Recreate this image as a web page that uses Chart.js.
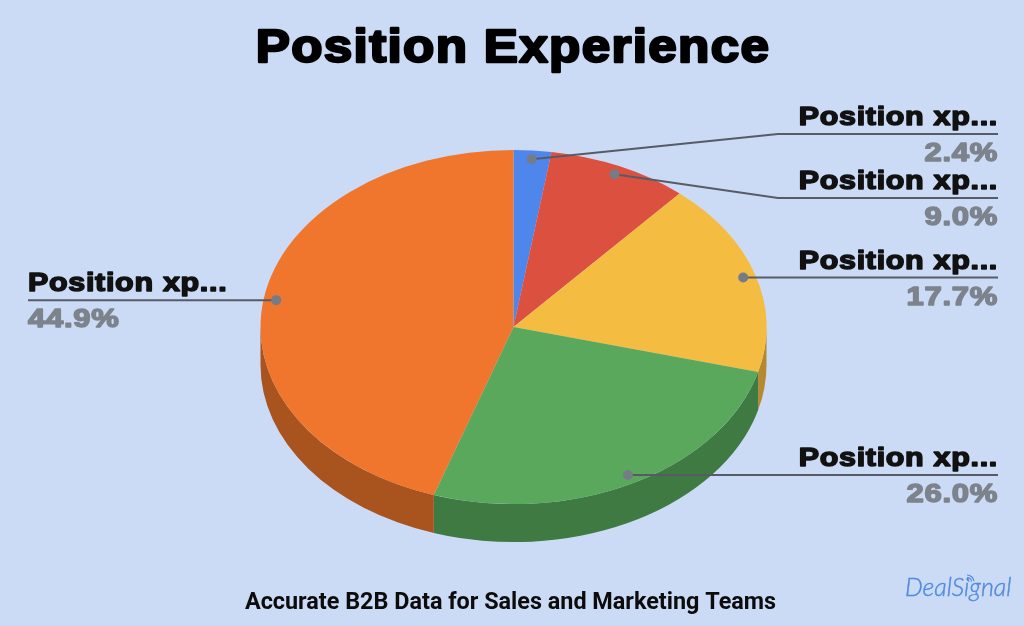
<!DOCTYPE html>
<html><head><meta charset="utf-8">
<script src="https://cdn.jsdelivr.net/npm/chart.js@4"></script>
<style>html,body{margin:0;padding:0;background:#cbdaf5;overflow:hidden}canvas{display:block}</style>
</head><body><canvas id="c" width="1024" height="626"></canvas>
<script>
const categories = ["Position xp...","Position xp...","Position xp...","Position xp...","Position xp..."];
const values = [2.4, 9.0, 17.7, 26.0, 44.9];
const colors = ["#4f86ec","#dc5040","#f4bd42","#59a85c","#f0762e"];
const sideColors = ["#375ea5","#9a382d","#b5892e","#3e7a42","#a9531f"];
const titleText = "Position Experience";
const footerText = "Accurate B2B Data for Sales and Marketing Teams";
const logoText = "DealSignal";

const SQUASH = 0.7, DEPTH = 38, DOT_FRAC = 0.95;
// label layout: leader elbow, line end, text anchor and line y
const labelLayout = [
  {lineY:134, elbow:778, x:998, align:"right"},
  {lineY:198, elbow:778, x:998, align:"right"},
  {lineY:277, elbow:null, x:998, align:"right"},
  {lineY:474, elbow:null, x:998, align:"right"},
  {lineY:300, elbow:null, x:28,  align:"left"}
];

function heavy(ctx, text, x, y, size, color, align, sw, stretch, spacing){
  ctx.save();
  ctx.translate(x,y); ctx.scale(stretch,1);
  ctx.font = "bold "+size+"px 'Liberation Sans'";
  ctx.letterSpacing = spacing+"px";
  ctx.textAlign = align; ctx.textBaseline = "alphabetic";
  ctx.fillStyle = color; ctx.strokeStyle = color; ctx.lineWidth = sw; ctx.lineJoin="round";
  ctx.strokeText(text,0,0); ctx.fillText(text,0,0);
  ctx.restore();
}

const pie3d = {
  id:"pie3d",
  beforeDatasetsDraw(chart){
    const ctx = chart.ctx, arcs = chart.getDatasetMeta(0).data;
    const a0 = arcs[0].getProps(["x","y","outerRadius"]);
    const cx=a0.x, cy=a0.y, rx=a0.outerRadius, ry=rx*SQUASH;
    arcs.forEach((arc,i)=>{
      const p = arc.getProps(["startAngle","endAngle"]);
      const s = Math.max(p.startAngle,0), e = Math.min(p.endAngle,Math.PI);
      if(e<=s) return;
      ctx.beginPath();
      ctx.ellipse(cx,cy,rx,ry,0,s,e,false);
      ctx.ellipse(cx,cy+DEPTH,rx,ry,0,e,s,true);
      ctx.closePath();
      ctx.fillStyle = sideColors[i];
      ctx.fill();
    });
    ctx.save();
    ctx.translate(0,cy); ctx.scale(1,SQUASH); ctx.translate(0,-cy);
  },
  afterDatasetsDraw(chart){
    const ctx = chart.ctx, arcs = chart.getDatasetMeta(0).data;
    ctx.restore();
    arcs.forEach((arc,i)=>{
      const p = arc.getProps(["x","y","startAngle","endAngle","outerRadius"]);
      const mid=(p.startAngle+p.endAngle)/2;
      const dx=p.x+Math.cos(mid)*p.outerRadius*DOT_FRAC;
      const dy=p.y+Math.sin(mid)*p.outerRadius*SQUASH*DOT_FRAC;
      const L=labelLayout[i];
      ctx.beginPath();
      ctx.strokeStyle="#565c66"; ctx.lineWidth=2;
      ctx.moveTo(dx,dy);
      if(L.elbow!==null){ ctx.lineTo(L.elbow,L.lineY); ctx.lineTo(L.x,L.lineY); }
      else { ctx.lineTo(L.x,dy); }
      ctx.stroke();
      ctx.beginPath(); ctx.fillStyle="#747c88"; ctx.arc(dx,dy,5,0,Math.PI*2); ctx.fill();
      const ly = L.elbow!==null ? L.lineY : dy;
      heavy(ctx,categories[i],L.x,ly-9,26.5,"#111111",L.align,1.5,1.15,0.6);
      heavy(ctx,values[i].toFixed(1)+"%",L.x,ly+27,26.5,"#7c838c",L.align,1.5,1.17,0.6);
    });
    heavy(ctx,titleText,513,62,47,"#000000","center",2.4,1.09,1.2);
    ctx.save();
    ctx.font="bold 23.4px Roboto"; ctx.fillStyle="#0c0c0c"; ctx.textAlign="center"; ctx.textBaseline="alphabetic";
    ctx.fillText(footerText,510.5,609);
    ctx.font="italic 300 25px Lato"; ctx.fillStyle="#4f8ae0"; ctx.textAlign="left";
    ctx.strokeStyle="#4f8ae0"; ctx.lineWidth=0.4;
    ctx.strokeText(logoText,905,596);
    ctx.fillText(logoText,905,596);
    ctx.lineWidth=1.2;
    [2,4.5,7].forEach(r=>{ ctx.beginPath(); ctx.arc(967,582,r,-Math.PI*0.5,-0.1); ctx.stroke(); });
    ctx.restore();
  }
};

new Chart(document.getElementById("c"),{
  type:"pie",
  data:{labels:categories,datasets:[{data:values,backgroundColor:colors,borderWidth:0}]},
  options:{
    responsive:false,animation:false,devicePixelRatio:1,
    layout:{padding:{top:74,bottom:46,left:3,right:0}},
    plugins:{legend:{display:false},tooltip:{enabled:false},title:{display:false}}
  },
  plugins:[pie3d]
});
</script></body></html>
